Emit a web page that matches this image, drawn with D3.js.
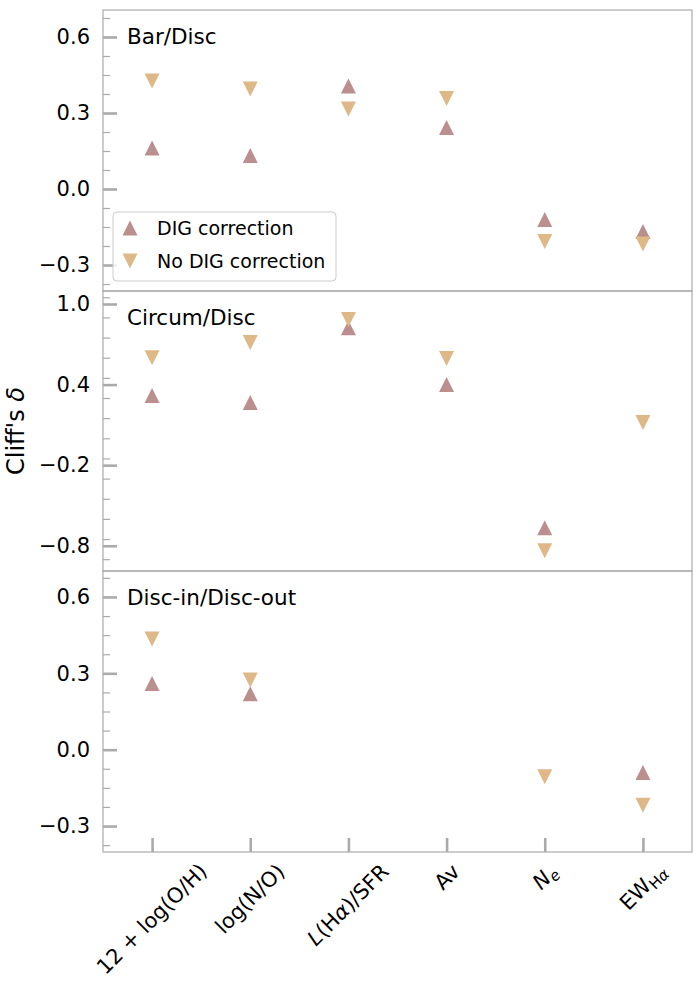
<html>
    <body>
        <svg class="chart" width="700" height="1000"></svg>
        <script src="https://d3js.org/d3.v7.min.js"></script>
        <script>
            // categories ($..$ = italic, _{..} = subscript, _$..$ = italic subscript)
            var categories = ["12 + log(O/H)", "log(N/O)", "$L$(H$α$)/SFR", "Av", "$N$_$e$", "EW_{H}_$α$"];
            var panelNames = ["Bar/Disc", "Circum/Disc", "Disc-in/Disc-out"];
            var seriesNames = ["DIG correction", "No DIG correction"];

            // Cliff's delta values (null = not shown)
            var digBar      = [0.162, 0.132, 0.407, 0.243, -0.120, -0.168];
            var noDigBar    = [0.426, 0.395, 0.316, 0.357, -0.207, -0.217];
            var digCircum   = [0.318, 0.266, 0.824, 0.400, -0.666, null];
            var noDigCircum = [0.600, 0.713, 0.884, 0.594, -0.837, 0.117];
            var digDisc     = [0.260, 0.220, null, null, null, -0.090];
            var noDigDisc   = [0.435, 0.274, null, null, -0.106, -0.218];

            var ticksSmall = [-0.3, 0.0, 0.3, 0.6];
            var ticksLarge = [-0.8, -0.2, 0.4, 1.0];

            var colors = ["#bc8f8f", "#deb887"];
            var font = 'DejaVu Sans';
            var left = 103, right = 692;
            var panels = [
                { name: panelNames[0], top: 10,  bottom: 291, domain: [-0.4026, 0.7066], ticks: ticksSmall, minorStep: 0.075, dig: digBar,    noDig: noDigBar },
                { name: panelNames[1], top: 291, bottom: 571, domain: [-0.988, 1.0968],  ticks: ticksLarge, minorStep: 0.15,  dig: digCircum, noDig: noDigCircum },
                { name: panelNames[2], top: 571, bottom: 852, domain: [-0.402, 0.702],   ticks: ticksSmall, minorStep: 0.075, dig: digDisc,   noDig: noDigDisc }
            ];

            d3.select('body').style('margin', '0px');
            var chart = d3.select('.chart');

            var xScale = d3.scaleLinear()
                .domain([-0.5, categories.length - 0.5])
                .range([left, right]);

            function tri(up, s) {
                return up ? 'M0,' + (-s) + 'L' + s + ',' + s + 'L' + (-s) + ',' + s + 'Z'
                          : 'M0,' + s + 'L' + s + ',' + (-s) + 'L' + (-s) + ',' + (-s) + 'Z';
            }

            function styleAxis(g, width) {
                g.select('.domain').remove();
                g.selectAll('line').style('stroke', '#aaa').style('stroke-width', width);
                g.selectAll('text').style('font-size', '21px').style('font-family', font).style('fill', 'black');
            }

            panels.forEach(function(p) {
                var yScale = d3.scaleLinear().domain(p.domain).range([p.bottom, p.top]);
                var minors = d3.range(Math.ceil(p.domain[0] / p.minorStep), Math.floor(p.domain[1] / p.minorStep) + 1)
                    .map(function(k) { return k * p.minorStep; })
                    .filter(function(v) { return !p.ticks.some(function(t) { return Math.abs(t - v) < 1e-6; }); });

                chart.append('g')
                    .attr('transform', 'translate(' + left + ',0)')
                    .call(d3.axisLeft(yScale).tickValues(minors).tickSize(-7).tickFormat(''))
                    .call(styleAxis, 1.2);

                chart.append('g')
                    .attr('transform', 'translate(' + left + ',0)')
                    .call(d3.axisLeft(yScale).tickValues(p.ticks).tickSize(-14).tickPadding(13).tickFormat(d3.format('.1f')))
                    .call(styleAxis, 2.6);

                chart.append('rect')
                    .attr('x', left).attr('y', p.top)
                    .attr('width', right - left).attr('height', p.bottom - p.top)
                    .style('fill', 'none').style('stroke', '#aaa').style('stroke-width', 1.2);

                chart.append('text')
                    .attr('x', 127).attr('y', p.top + 34)
                    .style('font-size', '21.5px').style('font-family', font)
                    .text(p.name);

                [p.dig, p.noDig].forEach(function(vals, si) {
                    chart.append('g').selectAll('path')
                        .data(vals.map(function(v, i) { return { v: v, i: i }; }).filter(function(d) { return d.v !== null; }))
                        .enter()
                        .append('path')
                        .attr('d', tri(si === 0, 7.5))
                        .attr('transform', function(d) { return 'translate(' + xScale(d.i) + ',' + yScale(d.v) + ')'; })
                        .style('fill', colors[si]);
                });
            });

            // bottom x ticks
            chart.append('g')
                .attr('transform', 'translate(0,852)')
                .call(d3.axisBottom(xScale).tickValues(d3.range(categories.length)).tickSize(-14).tickFormat(''))
                .call(styleAxis, 2.6);

            // rotated category labels with simple markup
            function addPieces(textSel, label) {
                var parts = label.split(/(_\$[^$]+\$|_\{[^}]+\}|\$[^$]+\$)/).filter(function(s) { return s.length; });
                var shifted = false;
                parts.forEach(function(part) {
                    var ts = textSel.append('tspan');
                    var sub = part[0] === '_';
                    var body = part;
                    if (sub) body = part.slice(1);
                    var ital = body[0] === '$';
                    if (ital) body = body.slice(1, -1);
                    else if (body[0] === '{') body = body.slice(1, -1);
                    if (sub && !shifted) { ts.attr('dy', 6); shifted = true; }
                    if (!sub && shifted) { ts.attr('dy', -6); shifted = false; }
                    if (sub) ts.style('font-size', '15px');
                    if (ital) ts.style('font-style', 'italic');
                    ts.text(body);
                });
            }

            categories.forEach(function(label, i) {
                var t = chart.append('text')
                    .attr('text-anchor', 'middle')
                    .attr('dominant-baseline', 'central')
                    .style('font-size', '21px')
                    .style('font-family', font);
                addPieces(t, label);
                var w = t.node().getComputedTextLength();
                var half = (w + 25) / 2 * Math.SQRT1_2;
                var cx = Math.round(xScale(i)), cy = Math.round(859 + half);
                t.attr('transform', 'translate(' + cx + ',' + cy + ') rotate(-45)');
            });

            // y label
            var yl = chart.append('text')
                .attr('transform', 'translate(16,431) rotate(-90)')
                .attr('text-anchor', 'middle')
                .attr('dominant-baseline', 'central')
                .style('font-size', '24px')
                .style('font-family', font);
            yl.append('tspan').text("Cliff's ");
            yl.append('tspan').style('font-style', 'italic').text('δ');

            // legend
            var legend = chart.append('g').attr('transform', 'translate(113,212)');
            legend.append('rect')
                .attr('width', 223).attr('height', 69).attr('rx', 4)
                .style('fill', 'white').style('fill-opacity', 0.8)
                .style('stroke', '#ccc').style('stroke-width', 1);
            seriesNames.forEach(function(name, si) {
                var row = legend.append('g').attr('transform', 'translate(17,' + (16 + si * 33) + ')');
                row.append('path').attr('d', tri(si === 0, 7.5)).style('fill', colors[si]);
                row.append('text')
                    .attr('x', 27)
                    .attr('dominant-baseline', 'central')
                    .style('font-size', '19px')
                    .style('font-family', font)
                    .text(name);
            });
        </script>
    </body>
</html>
